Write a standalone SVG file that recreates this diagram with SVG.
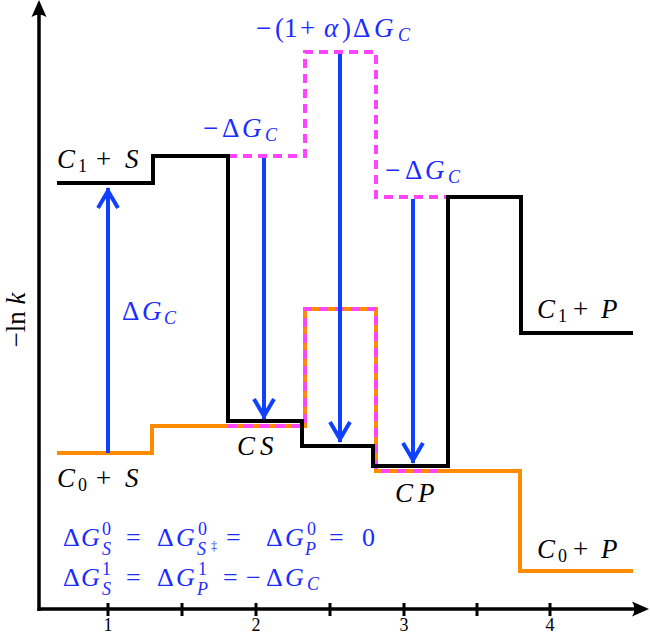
<svg xmlns="http://www.w3.org/2000/svg" width="650" height="635" viewBox="0 0 650 635">
  <defs>
    <style>
      .m { font-size: 27px; fill: #000; }
      .e { font-size: 26px; fill: #1c2cff; }
      .b { fill: #1c2cff; }
      .i { font-style: italic; }
      .s { font-size: 18px; }
      .ss { font-size: 12px; }
      .tick { font-size: 18px; fill: #000; text-anchor: middle; }
      .axis { fill: none; stroke: #000; stroke-width: 3.5; }
      .lvl { fill: none; stroke-width: 4; stroke-linejoin: miter; stroke-linecap: butt; }
      .arr { fill: none; stroke: #1040ff; stroke-width: 4; marker-end: url(#chev); }
    </style>
    <marker id="chev" markerUnits="userSpaceOnUse" viewBox="-22 -14 28 28" markerWidth="28" markerHeight="28" refX="3" refY="0" orient="auto">
      <path d="M-17,-10 L0,0 L-17,10" fill="none" stroke="#1040ff" stroke-width="4"/>
    </marker>
    <marker id="axhead" markerUnits="userSpaceOnUse" viewBox="-17 -9 20 18" markerWidth="20" markerHeight="18" refX="-2" refY="0" orient="auto">
      <path d="M2,0 L-15,-7.5 Q-10,0 -15,7.5 Z" fill="#000"/>
    </marker>
  </defs>

  <!-- axes -->
  <g id="axes" font-family="'Liberation Serif', serif">
    <line class="axis" x1="39" y1="611" x2="39" y2="4" marker-end="url(#axhead)"/>
    <line class="axis" x1="37.5" y1="609" x2="645" y2="609" marker-end="url(#axhead)"/>
    <g stroke="#000" stroke-width="3">
      <line x1="108" y1="603" x2="108" y2="616"/>
      <line x1="182" y1="603" x2="182" y2="616"/>
      <line x1="256" y1="603" x2="256" y2="616"/>
      <line x1="330" y1="603" x2="330" y2="616"/>
      <line x1="404" y1="603" x2="404" y2="616"/>
      <line x1="477" y1="603" x2="477" y2="616"/>
      <line x1="550" y1="603" x2="550" y2="616"/>
    </g>
    <text class="tick" x="108" y="631">1</text>
    <text class="tick" x="256" y="631">2</text>
    <text class="tick" x="404" y="631">3</text>
    <text class="tick" x="550" y="631">4</text>
    <text class="m" x="25" y="320" text-anchor="middle" transform="rotate(-90 25 320)">−ln <tspan class="i">k</tspan></text>
  </g>

  <!-- energy levels -->
  <g id="level-C0">
    <path class="lvl" stroke="#ff8c00" d="M57,453 H152 V426 H305 V309 H376 V471 H520 V571 H633"/>
    <path class="lvl" stroke="#ff44ff" stroke-dasharray="9 7" d="M228,426 H305 V309 H376 V471 H446"/>
  </g>
  <g id="level-C1-shifted">
    <path class="lvl" stroke="#ff44ff" stroke-dasharray="9 6" d="M228,156 H305 V52 H376 V197 H448"/>
  </g>
  <g id="level-C1">
    <path class="lvl" stroke="#000" d="M57,183 H153 V156 H228 V421 H302 V446 H373 V466 H448 V197 H521 V333 H633"/>
  </g>

  <!-- connectors -->
  <g id="connectors">
    <line class="arr" x1="108" y1="453" x2="108" y2="188"/>
    <line class="arr" x1="264" y1="158" x2="264" y2="419"/>
    <line class="arr" x1="340" y1="54" x2="340" y2="442"/>
    <line class="arr" x1="413" y1="199" x2="413" y2="463"/>
  </g>

  <!-- labels -->
  <g id="labels" font-family="'Liberation Serif', serif">
  <g id="label-C1S"><text class="m"><tspan x="57" y="168" class="i">C</tspan><tspan x="78" y="172" class="s">1</tspan><tspan x="96" y="168">+</tspan><tspan x="125" y="168" class="i">S</tspan></text></g>
  <g id="label-C0S"><text class="m"><tspan x="57" y="487" class="i">C</tspan><tspan x="78" y="491" class="s">0</tspan><tspan x="96" y="487">+</tspan><tspan x="125" y="487" class="i">S</tspan></text></g>
  <g id="label-C1P"><text class="m"><tspan x="537" y="318" class="i">C</tspan><tspan x="558" y="322" class="s">1</tspan><tspan x="573" y="318">+</tspan><tspan x="601" y="318" class="i">P</tspan></text></g>
  <g id="label-C0P"><text class="m"><tspan x="537" y="558" class="i">C</tspan><tspan x="558" y="562" class="s">0</tspan><tspan x="573" y="558">+</tspan><tspan x="601" y="558" class="i">P</tspan></text></g>
  <g id="label-CS"><text class="m i"><tspan x="237" y="455">C</tspan><tspan x="260" y="455">S</tspan></text></g>
  <g id="label-CP"><text class="m i"><tspan x="395" y="502">C</tspan><tspan x="418" y="502">P</tspan></text></g>

  <g id="label-dGC"><text class="m b"><tspan x="122" y="320">Δ</tspan><tspan x="142" y="320" class="i">G</tspan><tspan x="164" y="324" class="s i">C</tspan></text></g>
  <g id="label-mdGC1"><text class="m b"><tspan x="203" y="137">−</tspan><tspan x="222" y="137">Δ</tspan><tspan x="242" y="137" class="i">G</tspan><tspan x="265" y="141" class="s i">C</tspan></text></g>
  <g id="label-mdGC2"><text class="m b"><tspan x="385" y="179">−</tspan><tspan x="405" y="179">Δ</tspan><tspan x="425" y="179" class="i">G</tspan><tspan x="448" y="183" class="s i">C</tspan></text></g>
  <g id="label-alpha"><text class="m b"><tspan x="256" y="37">−</tspan><tspan x="275" y="37">(</tspan><tspan x="284" y="37">1</tspan><tspan x="300" y="37">+</tspan><tspan x="324" y="37" class="i">α</tspan><tspan x="342" y="37">)</tspan><tspan x="353" y="37">Δ</tspan><tspan x="374" y="37" class="i">G</tspan><tspan x="398" y="41" class="s i">C</tspan></text></g>
  </g>

  <g id="equations" font-family="'Liberation Serif', serif">
    <text class="e"><tspan x="63" y="546">Δ</tspan><tspan x="81" y="546" class="i">G</tspan><tspan x="102" y="535" class="s">0</tspan><tspan x="102" y="555" class="s i">S</tspan><tspan x="126" y="546">=</tspan><tspan x="157" y="546">Δ</tspan><tspan x="176" y="546" class="i">G</tspan><tspan x="198" y="535" class="s">0</tspan><tspan x="197" y="555" class="s i">S</tspan><tspan x="211" y="550" class="ss">‡</tspan><tspan x="226" y="546">=</tspan><tspan x="266" y="546">Δ</tspan><tspan x="285" y="546" class="i">G</tspan><tspan x="307" y="535" class="s">0</tspan><tspan x="305" y="555" class="s i">P</tspan><tspan x="329" y="546">=</tspan><tspan x="362" y="546">0</tspan></text>
    <text class="e"><tspan x="63" y="586">Δ</tspan><tspan x="81" y="586" class="i">G</tspan><tspan x="102" y="575" class="s">1</tspan><tspan x="102" y="595" class="s i">S</tspan><tspan x="126" y="586">=</tspan><tspan x="157" y="586">Δ</tspan><tspan x="176" y="586" class="i">G</tspan><tspan x="198" y="575" class="s">1</tspan><tspan x="197" y="595" class="s i">P</tspan><tspan x="223" y="586">=</tspan><tspan x="246" y="586">−</tspan><tspan x="266" y="586">Δ</tspan><tspan x="285" y="586" class="i">G</tspan><tspan x="307" y="590" class="s i">C</tspan></text>
  </g>
</svg>
